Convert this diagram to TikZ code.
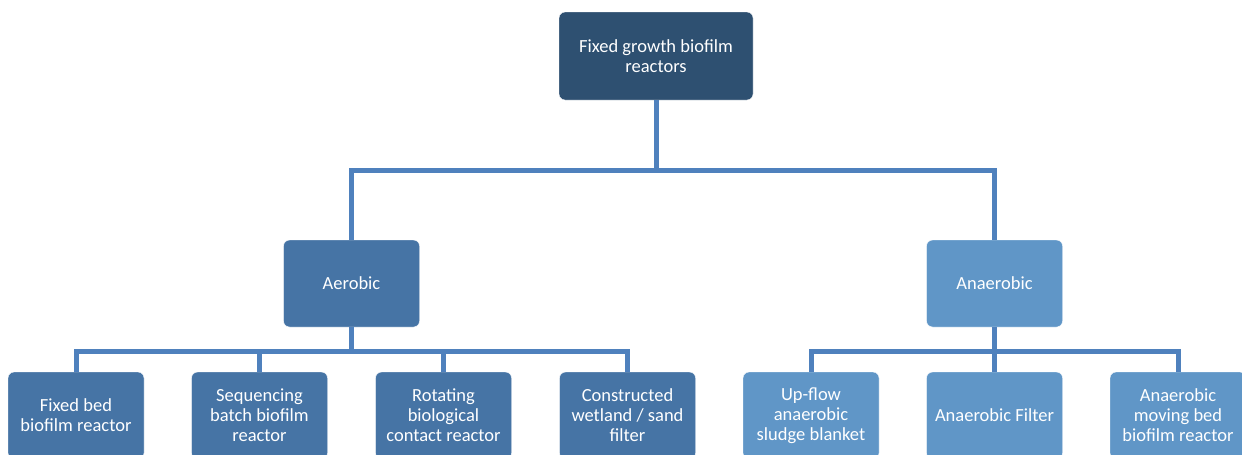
\documentclass[tikz,border=0pt]{standalone}
\usepackage{fontspec}
\setmainfont{Carlito}
\usetikzlibrary{positioning}

\definecolor{topblue}{RGB}{46,80,113}
\definecolor{aerblue}{RGB}{70,116,165}
\definecolor{anablue}{RGB}{96,150,199}
\definecolor{linkblue}{RGB}{79,129,189}

\begin{document}
\begin{tikzpicture}
[x=1pt,y=-1pt,
 box/.style={shape=rectangle,rounded corners=6pt,draw=white,thin,
   text=white,align=center,font=\fontsize{18.5}{20}\selectfont},
 rootbox/.style={box,fill=topblue,minimum width=194pt,minimum height=88pt},
 aerbox/.style={box,fill=aerblue,minimum width=136pt,minimum height=87pt},
 anabox/.style={box,fill=anablue,minimum width=136pt,minimum height=87pt},
 link/.style={draw=linkblue,line width=5pt}]

\useasboundingbox (0,0) rectangle (1242,455);

\node (root) [rootbox] at (656,56) {Fixed growth biofilm\\reactors};

\node (aer) [aerbox] at (351.5,283.5) {Aerobic};
\node (ana) [anabox] at (994.5,283.5) {Anaerobic};

\node (fbbr) [aerbox] at (76,415.5) {Fixed bed\\biofilm reactor};
\node (sbbr) [aerbox] at (259.5,415.5) {Sequencing\\batch biofilm\\reactor};
\node (rbc) [aerbox] at (443.5,415.5) {Rotating\\biological\\contact reactor};
\node (cw) [aerbox] at (627.5,415.5) {Constructed\\wetland / sand\\filter};

\node (uasb) [anabox] at (811,415.5) {Up-flow\\anaerobic\\sludge blanket};
\node (af) [anabox] at (994.5,415.5) {Anaerobic Filter};
\node (ambbr) [anabox] at (1178,415.5) {Anaerobic\\moving bed\\biofilm reactor};

\draw [link] (root.south) -- ++(0,70) -| (aer.north);
\draw [link] (root.south) -- ++(0,70) -| (ana.north);

\foreach \c in {fbbr,sbbr,rbc,cw}
	\draw [link] (aer.south) -- ++(0,24) -| (\c.north);
\foreach \c in {uasb,af,ambbr}
	\draw [link] (ana.south) -- ++(0,24) -| (\c.north);
\end{tikzpicture}
\end{document}
